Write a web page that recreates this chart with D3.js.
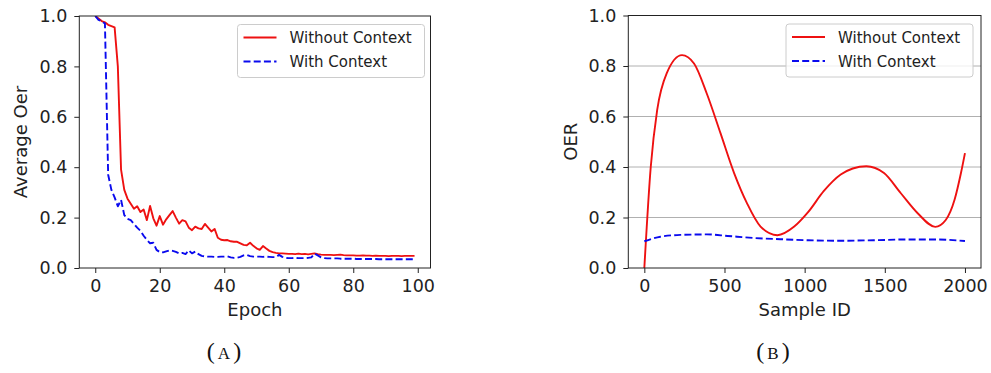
<!DOCTYPE html>
<html>
<head>
<meta charset="utf-8">
<script src="https://cdnjs.cloudflare.com/ajax/libs/d3/7.8.5/d3.min.js"></script>
<style>
    body { margin: 0; background: #fff; }
    svg { display: block; font-family: "DejaVu Sans", sans-serif; }
</style>
</head>
<body>
<div id="chart"></div>
<script>
    'use strict';

    // (A) average OER per epoch
    var epochs = d3.range(0, 100);
    var epochTicks = [0, 20, 40, 60, 80, 100];
    var withoutContextA = [
        1.0, 0.99, 0.98, 0.975, 0.965, 0.96, 0.955, 0.80, 0.39, 0.31,
        0.275, 0.255, 0.235, 0.245, 0.222, 0.232, 0.19, 0.246, 0.197, 0.168,
        0.206, 0.172, 0.193, 0.21, 0.226, 0.2, 0.176, 0.19, 0.185, 0.16,
        0.15, 0.164, 0.157, 0.155, 0.175, 0.16, 0.145, 0.155, 0.12, 0.112,
        0.11, 0.111, 0.106, 0.104, 0.104, 0.098, 0.092, 0.09, 0.1, 0.088,
        0.078, 0.072, 0.087, 0.077, 0.068, 0.063, 0.06, 0.058, 0.058, 0.057,
        0.056, 0.056, 0.055, 0.057, 0.055, 0.056, 0.054, 0.056, 0.058, 0.055,
        0.053, 0.052, 0.052, 0.052, 0.051, 0.052, 0.053, 0.051, 0.05, 0.05,
        0.05, 0.049, 0.049, 0.05, 0.049, 0.049, 0.048, 0.049, 0.048, 0.048,
        0.048, 0.047, 0.048, 0.048, 0.048, 0.047, 0.048, 0.048, 0.048, 0.048
    ];
    var withContextA = [
        1.0, 0.985, 0.98, 0.97, 0.37, 0.31, 0.28, 0.245, 0.27, 0.21,
        0.195, 0.19, 0.175, 0.16, 0.148, 0.128, 0.112, 0.098, 0.1, 0.072,
        0.063, 0.062, 0.066, 0.07, 0.068, 0.064, 0.058, 0.06, 0.055, 0.07,
        0.058, 0.065, 0.055, 0.048, 0.046, 0.045, 0.045, 0.044, 0.044, 0.045,
        0.045, 0.046, 0.042, 0.04, 0.041, 0.044, 0.05, 0.052, 0.047, 0.045,
        0.045, 0.045, 0.044, 0.045, 0.044, 0.043, 0.043, 0.052, 0.044, 0.04,
        0.039, 0.039, 0.04, 0.039, 0.039, 0.039, 0.04, 0.042, 0.057, 0.05,
        0.042, 0.039, 0.038, 0.038, 0.038, 0.038, 0.037, 0.037, 0.037, 0.037,
        0.037, 0.036, 0.036, 0.036, 0.036, 0.036, 0.036, 0.036, 0.035, 0.035,
        0.035, 0.035, 0.035, 0.035, 0.035, 0.035, 0.035, 0.035, 0.035, 0.035
    ];

    // (B) OER per sample
    var sampleIds = [0, 40, 80, 140, 235, 310, 390, 475, 560, 640, 725, 830, 935, 1020, 1120, 1225, 1300, 1385, 1495, 1600, 1705, 1815, 1880, 1935, 1975, 2000];
    var withoutContextB = [0.0, 0.40, 0.625, 0.772, 0.843, 0.81, 0.69, 0.534, 0.376, 0.257, 0.164, 0.13, 0.164, 0.22, 0.305, 0.37, 0.394, 0.403, 0.376, 0.296, 0.217, 0.163, 0.19, 0.27, 0.376, 0.455];
    var contextIds = [0, 100, 225, 390, 520, 680, 850, 1020, 1225, 1430, 1640, 1810, 2000];
    var withContextB = [0.106, 0.124, 0.131, 0.133, 0.127, 0.119, 0.114, 0.11, 0.108, 0.11, 0.113, 0.113, 0.107];
    var sampleTicks = [0, 500, 1000, 1500, 2000];

    var oerTicks = [0, 0.2, 0.4, 0.6, 0.8, 1.0];
    var seriesNames = ["Without Context", "With Context"];

    var width = 991, height = 373;
    var redColor = "#ee1111", blueColor = "#0a0aee";
    var lineWidth = 1.9;
    var dash = "7,3.2";

    var svg = d3.select("#chart").append("svg")
        .attr("width", width)
        .attr("height", height);

    svg.append("rect").attr("width", width).attr("height", height).attr("fill", "#fff");

    function drawPanel(opts) {
        var x = d3.scaleLinear().domain(opts.xDomain).range([opts.left, opts.right]);
        var y = d3.scaleLinear().domain([0, 1]).range([opts.bottom, opts.top]);
        var g = svg.append("g");

        if (opts.grid) {
            g.append("g").selectAll("line")
                .data(oerTicks.slice(1))
                .enter().append("line")
                .attr("x1", opts.left).attr("x2", opts.right)
                .attr("y1", function (d) { return y(d); })
                .attr("y2", function (d) { return y(d); })
                .attr("stroke", "#b0b0b0")
                .attr("stroke-width", 1);
        }

        var clip = "clip-" + opts.id;
        svg.append("clipPath").attr("id", clip)
            .append("rect")
            .attr("x", opts.left).attr("y", opts.top)
            .attr("width", opts.right - opts.left)
            .attr("height", opts.bottom - opts.top);

        var lines = g.append("g").attr("clip-path", "url(#" + clip + ")");

        opts.series.forEach(function (s) {
            var line = d3.line()
                .x(function (d) { return x(d[0]); })
                .y(function (d) { return y(d[1]); })
                .curve(s.curve || d3.curveLinear);
            lines.append("path")
                .datum(d3.zip(s.xs, s.ys))
                .attr("d", line)
                .attr("fill", "none")
                .attr("stroke", s.color)
                .attr("stroke-width", lineWidth)
                .attr("stroke-dasharray", s.dashed ? dash : null)
                .attr("stroke-linejoin", "round");
        });

        var xAxis = d3.axisBottom(x).tickValues(opts.xTicks).tickSize(5).tickPadding(7)
            .tickFormat(d3.format("d"));
        var yAxis = d3.axisLeft(y).tickValues(oerTicks).tickSize(5).tickPadding(7)
            .tickFormat(d3.format(".1f"));

        var gx = g.append("g").attr("transform", "translate(0," + opts.bottom + ")").call(xAxis);
        var gy = g.append("g").attr("transform", "translate(" + opts.left + ",0)").call(yAxis);
        [gx, gy].forEach(function (a) {
            a.select(".domain").remove();
            a.selectAll("line").attr("stroke", "#222").attr("stroke-width", 1);
            a.selectAll("text")
                .attr("fill", "#222")
                .style("font-size", "17.5px")
                .style("font-family", "DejaVu Sans, sans-serif");
        });

        g.append("rect")
            .attr("x", opts.left).attr("y", opts.top)
            .attr("width", opts.right - opts.left)
            .attr("height", opts.bottom - opts.top)
            .attr("fill", "none")
            .attr("stroke", "#222")
            .attr("stroke-width", 1);

        g.append("text")
            .attr("x", (opts.left + opts.right) / 2)
            .attr("y", 316)
            .attr("text-anchor", "middle")
            .attr("fill", "#222")
            .style("font-size", "18px")
            .text(opts.xLabel);

        g.append("text")
            .attr("transform", "translate(" + opts.yLabelX + "," + (opts.top + opts.bottom) / 2 + ") rotate(-90)")
            .attr("text-anchor", "middle")
            .attr("fill", "#222")
            .style("font-size", "18px")
            .text(opts.yLabel);

        // legend
        var lg = g.append("g").attr("transform", "translate(" + opts.legendX + "," + opts.legendY + ")");
        lg.append("rect")
            .attr("width", 187).attr("height", 53)
            .attr("rx", 3)
            .attr("fill", "#fff").attr("fill-opacity", 0.8)
            .attr("stroke", "#cccccc").attr("stroke-width", 1);
        opts.series.forEach(function (s, i) {
            var yy = 13 + i * 24;
            lg.append("line")
                .attr("x1", 6).attr("x2", 39)
                .attr("y1", yy).attr("y2", yy)
                .attr("stroke", s.color)
                .attr("stroke-width", lineWidth)
                .attr("stroke-dasharray", s.dashed ? dash : null);
            lg.append("text")
                .attr("x", 52).attr("y", yy + 5.5)
                .attr("fill", "#222")
                .style("font-size", "15px")
                .text(seriesNames[i]);
        });
    }

    drawPanel({
        id: "a",
        left: 79.3, right: 430.5, top: 16, bottom: 268,
        xDomain: [-4.95, 103.95],
        xTicks: epochTicks,
        xLabel: "Epoch", yLabel: "Average Oer", yLabelX: 27,
        legendX: 237.5, legendY: 24.5,
        grid: false,
        series: [
            { xs: epochs, ys: withoutContextA, color: redColor, dashed: false },
            { xs: epochs, ys: withContextA, color: blueColor, dashed: true }
        ]
    });

    drawPanel({
        id: "b",
        left: 628.3, right: 981, top: 15.5, bottom: 268,
        xDomain: [-100, 2100],
        xTicks: sampleTicks,
        xLabel: "Sample ID", yLabel: "OER", yLabelX: 577,
        legendX: 786, legendY: 24,
        grid: true,
        series: [
            { xs: sampleIds, ys: withoutContextB, color: redColor, dashed: false, curve: d3.curveMonotoneX },
            { xs: contextIds, ys: withContextB, color: blueColor, dashed: true, curve: d3.curveMonotoneX }
        ]
    });

    // sub-captions
    var captions = [{ x: 224, label: "A" }, { x: 773, label: "B" }];
    captions.forEach(function (c) {
        var t = svg.append("text")
            .attr("x", c.x).attr("y", 359)
            .attr("text-anchor", "middle")
            .attr("fill", "#111")
            .style("font-family", "'Liberation Serif', 'DejaVu Serif', serif")
            .style("font-size", "24px");
        t.append("tspan").text("(");
        t.append("tspan").attr("dx", 3).style("font-size", "17px").text(c.label);
        t.append("tspan").attr("dx", 3).text(")");
    });
</script>
</body>
</html>
